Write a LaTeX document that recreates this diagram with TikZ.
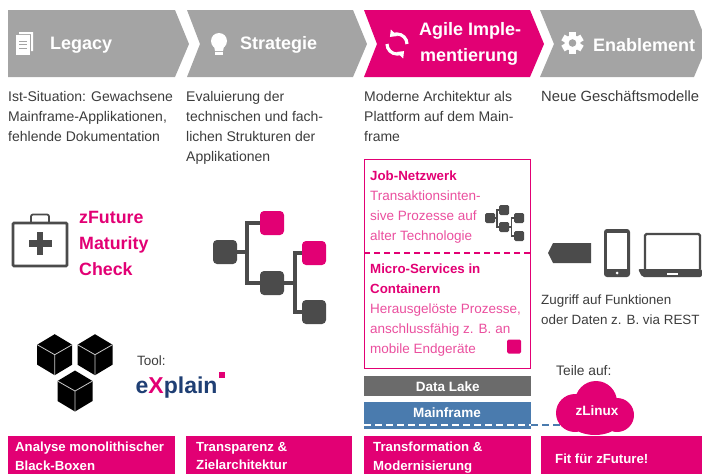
\documentclass[tikz,border=0pt]{standalone}
\usepackage{xcolor}
\usepackage{fontspec}
\setmainfont{Liberation Sans}
\usetikzlibrary{arrows.meta,calc}
\definecolor{magentaT}{HTML}{E20074}
\definecolor{softpink}{HTML}{EA4F9E}
\definecolor{grayT}{HTML}{A4A4A4}
\definecolor{darkT}{HTML}{4B4B4B}
\definecolor{bodyT}{HTML}{3C3C3C}
\definecolor{lakeT}{HTML}{6B6B6B}
\definecolor{blueT}{HTML}{4A7BAE}
\definecolor{navyT}{HTML}{1F3F74}
\tikzset{
  headtext/.style={anchor=west, inner sep=0pt, text=white, font=\bfseries\fontsize{18}{26}\selectfont, align=left},
  bodytext/.style={anchor=north west, inner sep=0pt, text=bodyT, font=\fontsize{14}{20}\selectfont, align=left},
  pinktext/.style={anchor=north west, inner sep=0pt, text=softpink, font=\fontsize{13.5}{20}\selectfont, align=left},
  bannerbox/.style={anchor=north west, fill=magentaT, inner sep=0pt, minimum height=38},
  bannertext/.style={anchor=north west, inner sep=0pt, text=white, font=\bfseries\fontsize{13.2}{18.5}\selectfont, align=left},
  layertext/.style={text=white, inner sep=0pt, font=\bfseries\fontsize{13.5}{15}\selectfont},
  treebox/.style={fill=darkT, rounded corners=4pt, minimum size=24, inner sep=0pt},
  treepink/.style={treebox, fill=magentaT},
  treeline/.style={draw=darkT, line width=3.5pt},
  minibox/.style={fill=darkT, rounded corners=1.5pt, minimum size=10, inner sep=0pt},
  miniline/.style={draw=darkT, line width=1.5pt},
  blackcube/.pic={
    \fill[black] (0,-20.5) -- (17.5,-10) -- (17.5,10) -- (0,20.5) -- (-17.5,10) -- (-17.5,-10) -- cycle;
    \draw[white!80!black, line width=0.8pt] (-17.5,-10) -- (0,0) -- (17.5,-10) (0,0) -- (0,20.5);
  }
}
\begin{document}
\begin{tikzpicture}[x=1pt, y=-1pt]
  \useasboundingbox (0,0) rectangle (702,474);
  \clip (0,0) rectangle (702,474);
  % Chevrons
  \fill[grayT] (8,10) -- (175,10) -- (189,44) -- (175,77) -- (8,77) -- cycle;
  \fill[grayT] (187,10) -- (353,10) -- (367,44) -- (353,77) -- (187,77) -- (200,44) -- cycle;
  \fill[magentaT] (364,10) -- (530,10) -- (544,44) -- (530,77) -- (364,77) -- (377,44) -- cycle;
  \fill[grayT] (540,10) -- (694,10) -- (702,30) -- (702,58) -- (694,77) -- (540,77) -- (554,44) -- cycle;
  \node[headtext] (legacy) at (50,45) {Legacy};
  \node[headtext] (strategie) at (240,45) {Strategie};
  \node[headtext] (agile) at (419,44) {Agile Imple-\\\hspace{1pt}mentierung};
  \node[headtext] (enable) at (593,45) {Enablement};
  % Icon Legacy
  \fill[white] (19,32) -- (33,32) -- (33,51) -- (31,51) -- (31,34) -- (19,34) -- cycle;
  \fill[white] (16,35) rectangle (30,55);
  \draw[grayT, line width=1pt] (19,41) -- (27,41) (19,44.5) -- (27,44.5) (19,48) -- (27,48);
  % Icon Strategie
  \fill[white] (219,41) circle (8);
  \fill[white] (214,46) -- (224,46) -- (223,51) -- (215,51) -- cycle;
  \fill[white] (215,52) rectangle (223,54.5);
  % Icon Agile
  \draw[white, line width=3.2pt, -{Triangle[length=6pt,width=9pt]}] (387,44) arc[start angle=180, end angle=45, radius=10];
  \draw[white, line width=3.2pt, -{Triangle[length=6pt,width=9pt]}] (407,44) arc[start angle=0, end angle=-135, radius=10];
  % Icon Enablement
  \foreach \a in {0,60,120}
    \fill[white, rotate around={\a:(572.5,43)}] (569.2,32) rectangle (575.8,54);
  \fill[white] (572.5,43) circle (8);
  \fill[grayT] (572.5,43) circle (3.8);
  % Beschreibungen
  \node[bodytext] (txt1) at (8,91) {Ist-Situation: Gewachsene\\Mainframe-Applikationen,\\fehlende Dokumentation};
  \node[bodytext] (txt2) at (186,91) {Evaluierung der\\technischen und fach-\\lichen Strukturen der\\Applikationen};
  \node[bodytext] (txt3) at (364,91) {Moderne Architektur als\\Plattform auf dem Main-\\frame};
  \node[bodytext, font=\fontsize{14.8}{20}\selectfont] (txt4) at (541,91) {Neue Geschäftsmodelle};
  % Maturity Check
  \draw[darkT, line width=2.6pt, rounded corners=1pt] (13,223) rectangle (67,266);
  \draw[darkT, line width=1.8pt, rounded corners=2pt] (31,222) -- (31,214.5) -- (49,214.5) -- (49,222);
  \fill[darkT] (28.5,240) rectangle (51.5,246.5);
  \fill[darkT] (36.8,231.5) rectangle (43.2,255);
  \node[anchor=north west, inner sep=0pt, text=magentaT, font=\bfseries\fontsize{17.8}{26}\selectfont, align=left] (check) at (79,211) {zFuture\\Maturity\\Check};
  % Baum
  \node[treebox] (root) at (225,252) {};
  \node[treepink] (top) at (272,223) {};
  \node[treebox] (mid) at (272,283) {};
  \node[treepink] (right) at (314,253) {};
  \node[treebox] (low) at (314,312) {};
  \coordinate (rootjoin) at (247,252);
  \coordinate (midjoin) at (295,283);
  \draw[treeline] (root.east) -- (rootjoin) (top.west) -| (rootjoin) |- (mid.west);
  \draw[treeline] (mid.east) -- (midjoin) (right.west) -| (midjoin) |- (low.west);
  % Black-Boxen
  \pic at (54.7,354.7) {blackcube};
  \pic at (95,354.7) {blackcube};
  \pic at (75,391) {blackcube};
  \node[anchor=west, inner sep=0pt, text=bodyT, font=\fontsize{13.5}{16}\selectfont] (tool) at (137,361) {Tool:};
  \node[anchor=west, inner sep=0pt, text=navyT, font=\bfseries\fontsize{23}{24}\selectfont] (explain) at (135.5,388) {e\textcolor{magentaT}{X}plain};
  \fill[magentaT] (219,372) rectangle (225,378);
  % Kasten
  \node[anchor=north west, draw=magentaT, line width=1.3pt, minimum width=166, minimum height=209, inner sep=0pt] (panel) at (364,159) {};
  \coordinate (dashl) at (364,253);
  \coordinate (dashr) at (530,253);
  \draw[magentaT, line width=1.2pt, dash pattern=on 6pt off 4pt] (dashl) -- (dashr);
  \node[pinktext] (job) at (370,171) {\textcolor{magentaT}{\bfseries\fontsize{13.3}{20}\selectfont Job-Netzwerk}\\Transaktionsinten-\\sive Prozesse auf\\alter Technologie};
  \node[pinktext] (micro) at (370,264) {\textcolor{magentaT}{\bfseries\fontsize{13.3}{20}\selectfont Micro-Services in}\\\textcolor{magentaT}{\bfseries\fontsize{13.3}{20}\selectfont Containern}\\Herausgelöste Prozesse,\\anschlussfähig z. B. an\\mobile Endgeräte};
  % Mini-Baum
  \node[minibox] (mroot) at (490,218) {};
  \node[minibox] (mtop) at (504,210) {};
  \node[minibox] (mmid) at (504,227) {};
  \node[minibox] (mright) at (519,218) {};
  \node[minibox] (mlow) at (519,236) {};
  \coordinate (mrootjoin) at (497,218);
  \coordinate (mmidjoin) at (511.5,227);
  \draw[miniline] (mroot.east) -- (mrootjoin) (mtop.west) -| (mrootjoin) |- (mmid.west);
  \draw[miniline] (mmid.east) -- (mmidjoin) (mright.west) -| (mmidjoin) |- (mlow.west);
  \node[fill=magentaT, rounded corners=1.5pt, minimum size=14, inner sep=0pt] (msquare) at (514,346.5) {};
  % Schichten
  \node[anchor=north west, fill=lakeT, minimum width=167, minimum height=20, inner sep=0pt, layertext] (lake) at (364,376) {Data Lake};
  \node[anchor=north west, fill=blueT, minimum width=167, minimum height=27, inner sep=0pt] (frame) at (364,402) {};
  \node[layertext] (framelabel) at (447,413) {Mainframe};
  % Cloud
  \coordinate (dashin) at (364,424.5);
  \coordinate (dashmid) at (531,424.5);
  \coordinate (dashend) at (570,424.5);
  \draw[white, line width=2pt, dash pattern=on 7pt off 4pt] (dashin) -- (dashmid);
  \draw[blueT, line width=2pt, dash pattern=on 7pt off 4pt] (dashmid) -- (dashend);
  \fill[magentaT] (575,413) circle (19) (596,402) circle (21) (617,415) circle (17) (595,421) ellipse (25 and 14);
  \node[layertext] (zlinux) at (597,411) {zLinux};
  \node[anchor=west, inner sep=0pt, text=bodyT, font=\fontsize{13.8}{16}\selectfont] (teile) at (556,371) {Teile auf:};
  % Geraete
  \fill[darkT] (553,243) -- (591,243) -- (591,263) -- (553,263) -- (548,253) -- cycle;
  \fill[darkT, rounded corners=3pt] (604,229) rectangle (630,277);
  \fill[white] (607,233) rectangle (627,269);
  \fill[white] (617,273) circle (1.5);
  \draw[darkT, line width=2.2pt, rounded corners=1.5pt] (645,269) -- (645,234) -- (700,234) -- (700,269);
  \fill[darkT, rounded corners=2pt] (638,269) -- (702,269) -- (702,277) -- (642,277) -- cycle;
  \fill[white] (667,272.5) rectangle (678,274.5);
  \node[bodytext, font=\fontsize{13.4}{20}\selectfont] (zugriff) at (541,295) {Zugriff auf Funktionen\\oder Daten z. B. via REST};
  % Banner
  \node[bannerbox, minimum width=167] (ban1) at (8,436) {};
  \node[bannerbox, minimum width=166] (ban2) at (186,436) {};
  \node[bannerbox, minimum width=167] (ban3) at (364,436) {};
  \node[bannerbox, minimum width=161] (ban4) at (541,436) {};
  \node[bannertext] (bant1) at (15,442) {Analyse monolithischer\\Black-Boxen};
  \node[bannertext] (bant2) at (196,442) {Transparenz \&\\Zielarchitektur};
  \node[bannertext] (bant3) at (373,442) {Transformation \&\\Modernisierung};
  \node[bannertext] (bant4) at (555,454) {Fit für zFuture!};
\end{tikzpicture}
\end{document}
